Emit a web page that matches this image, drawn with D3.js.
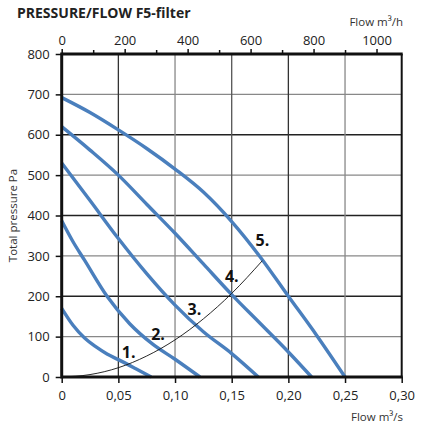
<!DOCTYPE html>
<html>
<head>
<meta charset="utf-8">
<script src="https://cdn.jsdelivr.net/npm/d3@7"></script>
<style>
  body { margin: 0; background: #fff; }
  svg { display: block; font-family: "Open Sans", "DejaVu Sans", sans-serif; }
</style>
</head>
<body>
<div id="chart"></div>
<script>
// Fan curves, flow m3/s vs total pressure Pa
const fan1 = [[0, 170], [0.01, 128], [0.02, 97], [0.03, 75], [0.04, 57], [0.05, 43], [0.065, 21], [0.079, 0]];
const fan2 = [[0, 387], [0.01, 335], [0.02, 290], [0.04, 200], [0.06, 132], [0.08, 82], [0.10, 44], [0.122, 0]];
const fan3 = [[0, 530], [0.025, 437], [0.05, 343], [0.075, 256], [0.10, 178], [0.125, 112], [0.15, 58], [0.1735, 0]];
const fan4 = [[0, 620], [0.025, 562], [0.05, 500], [0.075, 428], [0.10, 356], [0.125, 280], [0.15, 204], [0.175, 133], [0.20, 62], [0.2205, 0]];
const fan5 = [[0, 692], [0.025, 655], [0.05, 612], [0.075, 566], [0.10, 515], [0.125, 458], [0.15, 385], [0.175, 298], [0.20, 200], [0.225, 103], [0.25, 0]];
const fans = [fan1, fan2, fan3, fan4, fan5];

// System curve
const systemCurve = [[0, 0], [0.025, 6], [0.05, 23], [0.075, 52], [0.10, 92], [0.125, 144], [0.15, 207], [0.177, 288]];

// Curve number labels: [flow, pressure, text]
const curveLabels = [[0.053, 47, '1.'], [0.079, 91, '2.'], [0.111, 153, '3.'], [0.144, 235, '4.'], [0.171, 324, '5.']];

const flowTicks = [0, 0.05, 0.10, 0.15, 0.20, 0.25, 0.30];
const pressureTicks = [0, 100, 200, 300, 400, 500, 600, 700, 800];
const hourTicks = [0, 200, 400, 600, 800, 1000];
const hourMinor = [100, 300, 500, 700, 900];

const svg = d3.select('#chart').append('svg')
  .attr('width', 431)
  .attr('height', 428);

const x = d3.scaleLinear().domain([0, 0.30]).range([61.7, 401.7]);
const xh = d3.scaleLinear().domain([0, 1080]).range([61.7, 401.7]);
const y = d3.scaleLinear().domain([0, 800]).range([377, 54]);

// Title
svg.append('text')
  .attr('x', 17).attr('y', 18)
  .attr('font-size', 14).attr('font-weight', 700).attr('fill', '#222')
  .text('PRESSURE/FLOW F5-filter');

// Grid
const grid = svg.append('g');
grid.selectAll('.hg')
  .data(pressureTicks.filter(d => d > 0 && d < 800))
  .join('line')
  .attr('x1', x(0)).attr('x2', x(0.30))
  .attr('y1', d => y(d)).attr('y2', d => y(d))
  .attr('stroke', d => d % 200 === 0 ? '#222' : '#888')
  .attr('stroke-width', 1.3);
grid.selectAll('.vg')
  .data(flowTicks.filter(d => d > 0 && d < 0.3))
  .join('line')
  .attr('x1', d => x(d)).attr('x2', d => x(d))
  .attr('y1', y(0)).attr('y2', y(800))
  .attr('stroke', (d, i) => ['#333', '#888', '#555', '#333', '#888'][i])
  .attr('stroke-width', 1.3);

// Fan curves
const line = d3.line()
  .x(d => x(d[0]))
  .y(d => y(d[1]))
  .curve(d3.curveMonotoneX);

svg.selectAll('.fan')
  .data(fans)
  .join('path')
  .attr('fill', 'none')
  .attr('stroke', '#4a7fbd')
  .attr('stroke-width', 3.4)
  .attr('d', line);

// System curve
svg.append('path')
  .datum(systemCurve)
  .attr('fill', 'none')
  .attr('stroke', '#111')
  .attr('stroke-width', 0.9)
  .attr('d', line);

svg.selectAll('.clab')
  .data(curveLabels)
  .join('text')
  .attr('x', d => x(d[0]))
  .attr('y', d => y(d[1]))
  .attr('font-size', 16).attr('font-weight', 700).attr('fill', '#111')
  .text(d => d[2]);

// Frame
const frame = svg.append('g').attr('stroke', '#111').attr('fill', 'none');
frame.append('line').attr('x1', x(0)).attr('x2', x(0)).attr('y1', y(800) - 1.5).attr('y2', y(0) + 1.5).attr('stroke-width', 3);
frame.append('line').attr('x1', x(0)).attr('x2', x(0.30) + 1).attr('y1', y(0)).attr('y2', y(0)).attr('stroke-width', 3);
frame.append('line').attr('x1', x(0)).attr('x2', x(0.30) + 1).attr('y1', y(800)).attr('y2', y(800)).attr('stroke-width', 3);
frame.append('line').attr('x1', x(0.30)).attr('x2', x(0.30)).attr('y1', y(800)).attr('y2', y(0)).attr('stroke-width', 2);

// Left axis
svg.append('g').attr('transform', `translate(${x(0)},0)`)
  .call(d3.axisLeft(y).tickValues(pressureTicks).tickSize(6).tickPadding(6));
// Bottom axis
svg.append('g').attr('transform', `translate(0,${y(0)})`)
  .call(d3.axisBottom(x).tickValues(flowTicks).tickSize(6).tickPadding(8)
    .tickFormat(d => d === 0 ? '0' : d3.format('.2f')(d).replace('.', ',')));
// Top axis (m3/h)
svg.append('g').attr('transform', `translate(0,${y(800)})`)
  .call(d3.axisTop(xh).tickValues(hourTicks).tickSize(5).tickPadding(4).tickFormat(d3.format('d')));
svg.append('g').attr('transform', `translate(0,${y(800)})`)
  .call(d3.axisTop(xh).tickValues(hourMinor).tickSize(4).tickFormat(''));

svg.selectAll('.domain').remove();
svg.selectAll('.tick line').attr('stroke', '#111').attr('stroke-width', 1.5);
svg.selectAll('.tick text')
  .attr('font-size', 13)
  .attr('font-family', '"Open Sans", "DejaVu Sans", sans-serif')
  .attr('fill', '#222');

// Axis titles
svg.append('text')
  .attr('x', 403).attr('y', 26).attr('text-anchor', 'end')
  .attr('font-size', 11.5).attr('fill', '#333')
  .text('Flow m³/h');
svg.append('text')
  .attr('x', 403).attr('y', 421).attr('text-anchor', 'end')
  .attr('font-size', 11.5).attr('fill', '#333')
  .text('Flow m³/s');
svg.append('text')
  .attr('transform', 'translate(17,215.5) rotate(-90)')
  .attr('text-anchor', 'middle')
  .attr('font-size', 11.5).attr('fill', '#333')
  .text('Total pressure Pa');
</script>
</body>
</html>
